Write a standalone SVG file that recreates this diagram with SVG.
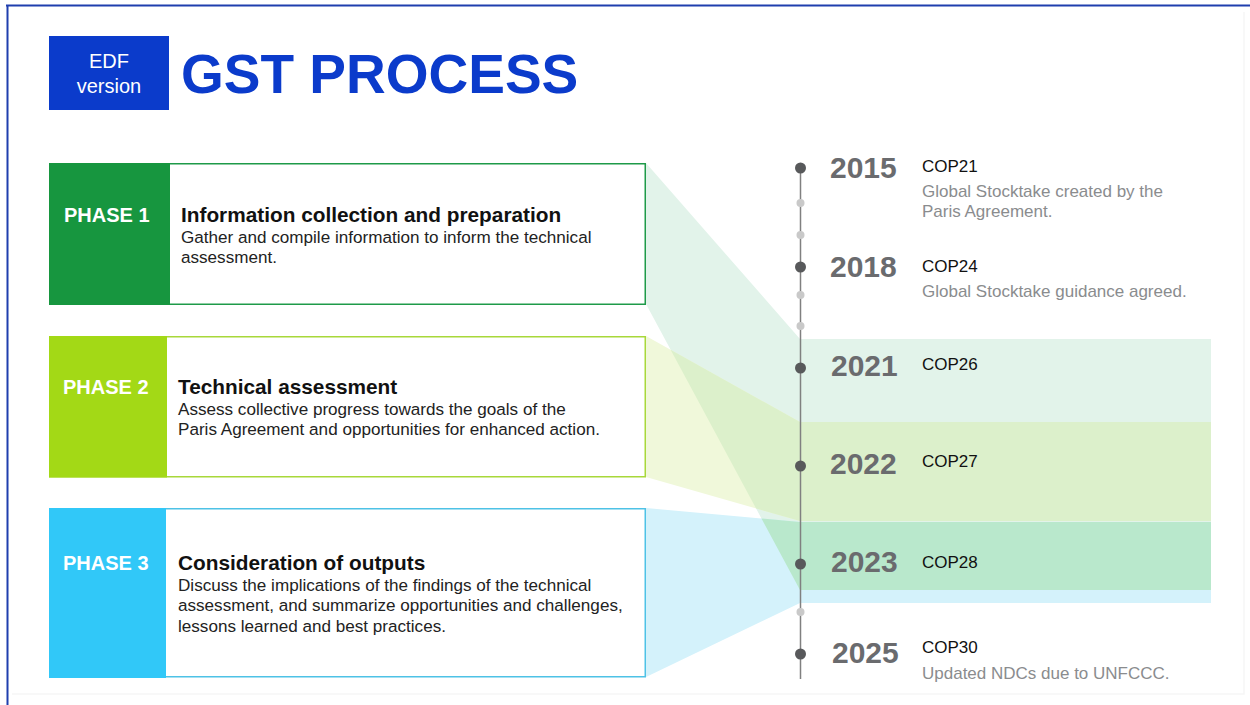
<svg xmlns="http://www.w3.org/2000/svg" width="1250" height="705" viewBox="0 0 1250 705">
<style>
text{font-family:"Liberation Sans",Arial,Helvetica,sans-serif}
.ph{font-size:20px;font-weight:bold;fill:#ffffff}
.hd{font-size:20.8px;font-weight:bold;fill:#111111}
.bd{font-size:17.1px;fill:#222222}
.yr{font-size:30px;font-weight:bold;fill:#6a6b6e}
.cop{font-size:17px;fill:#111111}
.ds{font-size:17px;fill:#8a8c8e}
.big{fill:#58595b}
.sm{fill:#c9c9c9}
</style>
<rect x="0" y="0" width="1250" height="705" fill="#ffffff"/>
<!-- frame -->
<path d="M1244 12 V694 H12" fill="none" stroke="#f6f6f6" stroke-width="1.5"/>
<line x1="6" y1="5.5" x2="1250" y2="5.5" stroke="#1f3fae" stroke-width="2.2"/>
<line x1="7.5" y1="5" x2="7.5" y2="705" stroke="#1f3fae" stroke-width="2"/>

<!-- header -->
<g id="header">
<rect x="49" y="36" width="120" height="74" fill="#0b3bcb"/>
<text x="109" y="68" font-size="20" fill="#ffffff" text-anchor="middle">EDF</text>
<text x="109" y="93" font-size="20" fill="#ffffff" text-anchor="middle">version</text>
<text x="181" y="93" font-size="55" font-weight="bold" fill="#0b3bcb">GST PROCESS</text>
</g>

<!-- connectors: funnels and bands -->
<g id="connectors">
<polygon points="646,163 800,339 1211,339 1211,590 800,590 646,304" fill="#e2f3ea"/>
<polygon points="646,336 800,422 1211,422 1211,521 800,521 646,477" fill="#f0f8da"/>
<polygon points="646,508 800,522 1211,522 1211,603 800,603 646,677" fill="#d4f2fb"/>
<polygon points="670.6,349.8 800,422 1211,422 1211,521 800,521 756.1,508.5" fill="#dcf0cb"/>
<polygon points="761.5,518.5 800,522 1211,522 1211,590 800,590" fill="#b9e8cc"/>
</g>

<!-- phases -->
<g id="phase1">
<rect x="49.75" y="163.75" width="595.5" height="140.5" fill="#ffffff" stroke="#1e9a49" stroke-width="1.5"/>
<rect x="49" y="163" width="121" height="142" fill="#17963f"/>
<text class="ph" x="64" y="222">PHASE 1</text>
<text class="hd" x="181" y="222">Information collection and preparation</text>
<text class="bd" x="181" y="243">Gather and compile information to inform the technical</text>
<text class="bd" x="181" y="263">assessment.</text>
</g>
<g id="phase2">
<rect x="49.75" y="336.75" width="595.5" height="140" fill="#ffffff" stroke="#a8d83a" stroke-width="1.5"/>
<rect x="49" y="336" width="118" height="141.5" fill="#a3d916"/>
<text class="ph" x="63" y="394">PHASE 2</text>
<text class="hd" x="178" y="394">Technical assessment</text>
<text class="bd" x="178" y="415">Assess collective progress towards the goals of the</text>
<text class="bd" x="178" y="435">Paris Agreement and opportunities for enhanced action.</text>
</g>
<g id="phase3">
<rect x="49.75" y="508.75" width="595.5" height="168" fill="#ffffff" stroke="#4ec2e6" stroke-width="1.5"/>
<rect x="49" y="508" width="117" height="170" fill="#31c8f8"/>
<text class="ph" x="63" y="570">PHASE 3</text>
<text class="hd" x="178" y="570">Consideration of outputs</text>
<text class="bd" x="178" y="591">Discuss the implications of the findings of the technical</text>
<text class="bd" x="178" y="611">assessment, and summarize opportunities and challenges,</text>
<text class="bd" x="178" y="632">lessons learned and best practices.</text>
</g>

<!-- timeline -->
<g id="timeline">
<line x1="800.5" y1="168" x2="800.5" y2="679" stroke="#808080" stroke-width="1.5"/>
<circle class="sm" cx="800.5" cy="203" r="4"/>
<circle class="sm" cx="800.5" cy="235" r="4"/>
<circle class="sm" cx="800.5" cy="295" r="4"/>
<circle class="sm" cx="800.5" cy="326" r="4"/>
<circle class="sm" cx="800.5" cy="612" r="4"/>
</g>
<g id="y2015">
<circle class="big" cx="800.5" cy="168" r="5.5"/>
<text class="yr" x="830" y="178">2015</text>
<text class="cop" x="922" y="172">COP21</text>
<text class="ds" x="922" y="197">Global Stocktake created by the</text>
<text class="ds" x="922" y="217">Paris Agreement.</text>
</g>
<g id="y2018">
<circle class="big" cx="800.5" cy="267" r="5.5"/>
<text class="yr" x="830" y="277">2018</text>
<text class="cop" x="922" y="272">COP24</text>
<text class="ds" x="922" y="297">Global Stocktake guidance agreed.</text>
</g>
<g id="y2021">
<circle class="big" cx="800.5" cy="368" r="5.5"/>
<text class="yr" x="831" y="376">2021</text>
<text class="cop" x="922" y="370">COP26</text>
</g>
<g id="y2022">
<circle class="big" cx="800.5" cy="466" r="5.5"/>
<text class="yr" x="830" y="474">2022</text>
<text class="cop" x="922" y="467">COP27</text>
</g>
<g id="y2023">
<circle class="big" cx="800.5" cy="564" r="5.5"/>
<text class="yr" x="831" y="572">2023</text>
<text class="cop" x="922" y="568">COP28</text>
</g>
<g id="y2025">
<circle class="big" cx="800.5" cy="654" r="5.5"/>
<text class="yr" x="832" y="663">2025</text>
<text class="cop" x="922" y="653">COP30</text>
<text class="ds" x="922" y="679">Updated NDCs due to UNFCCC.</text>
</g>
</svg>
